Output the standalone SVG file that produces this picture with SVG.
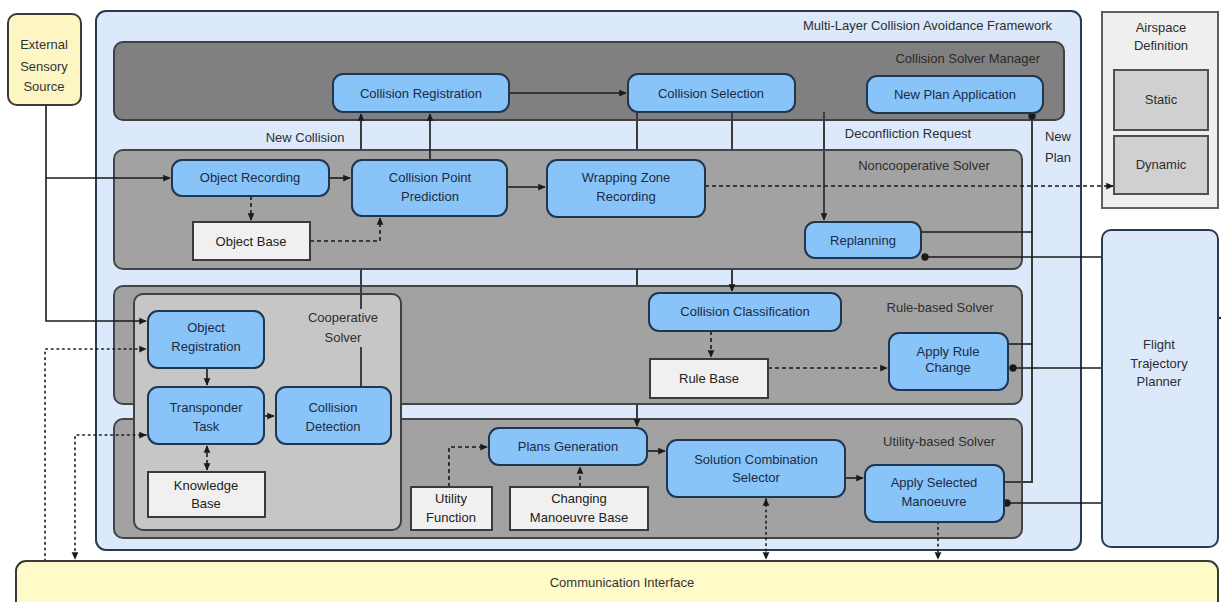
<svg xmlns="http://www.w3.org/2000/svg" width="1221" height="602" viewBox="0 0 1221 602">
<defs>
<marker id="arr" viewBox="0 0 10 10" refX="9" refY="5" markerWidth="7.5" markerHeight="7.5" orient="auto-start-reverse" markerUnits="userSpaceOnUse"><path d="M0,0.5 L10,5 L0,9.5 z" fill="#1a1a1a"/></marker>
<marker id="dot" viewBox="0 0 10 10" refX="5" refY="5" markerWidth="8" markerHeight="8" markerUnits="userSpaceOnUse"><circle cx="5" cy="5" r="4.6" fill="#1a1a1a"/></marker>
<style>
text{font-family:"Liberation Sans",Arial,sans-serif;font-size:13px;}
.nt{fill:#1c2a44;text-anchor:middle;}
.bt{fill:#2e2e2e;text-anchor:middle;}
.node{fill:#88c4f8;stroke:#1f3550;stroke-width:2;}
.db{fill:#f0f0f0;stroke:#3a3a3a;stroke-width:2;}
.band{fill:#a2a2a2;stroke:#454545;stroke-width:2;}
.c{fill:none;stroke:#1a1a1a;stroke-width:1.6;}
.g{fill:none;stroke:#3c3c3c;stroke-width:2;}
.dash{fill:none;stroke:#1a1a1a;stroke-width:1.6;stroke-dasharray:4 3;}
.dotl{fill:none;stroke:#1a1a1a;stroke-width:1.6;stroke-dasharray:1.6 4;stroke-linecap:round;}
</style>
</defs>

<g id="framework">
<rect x="96" y="11" width="985" height="539" rx="10" fill="#dce9fb" stroke="#2a3a50" stroke-width="2"/>
<text x="1052" y="30" style="fill:#2e2e2e;text-anchor:end;">Multi-Layer Collision Avoidance Framework</text>
</g>
<g id="manager-band">
<rect x="114" y="42" width="950" height="78" rx="9" fill="#808080" stroke="#404040" stroke-width="2"/>
<text x="1040" y="63" style="fill:#2a2a2a;text-anchor:end;">Collision Solver Manager</text>
</g>
<g id="noncoop-band">
<rect class="band" x="114" y="150" width="908" height="119" rx="9"/>
<text class="bt" x="924" y="170">Noncooperative Solver</text>
</g>
<g id="rule-band">
<rect class="band" x="114" y="286" width="908" height="118" rx="9"/>
<text class="bt" x="940" y="312">Rule-based Solver</text>
</g>
<g id="utility-band">
<rect class="band" x="114" y="419" width="908" height="119" rx="9"/>
<text class="bt" x="939" y="446">Utility-based Solver</text>
</g>
<g id="coop-solver">
<rect x="134" y="294" width="267" height="236" rx="9" fill="#c6c6c6" stroke="#404040" stroke-width="2"/>
<text class="bt" x="343" y="322">Cooperative</text>
<text class="bt" x="343" y="342">Solver</text>
</g>
<g id="airspace-definition">
<rect x="1102" y="12" width="116" height="196" fill="#efefef" stroke="#606060" stroke-width="2"/>
<text class="bt" x="1161" y="32">Airspace</text>
<text class="bt" x="1161" y="50">Definition</text>
</g>
<g id="static">
<rect x="1114" y="70" width="94" height="60" fill="#d0d0d0" stroke="#505050" stroke-width="2"/>
<text class="bt" x="1161" y="104">Static</text>
</g>
<g id="dynamic">
<rect x="1114" y="136" width="94" height="58" fill="#d0d0d0" stroke="#505050" stroke-width="2"/>
<text class="bt" x="1161" y="169">Dynamic</text>
</g>

<g id="connectors">
<path class="c" d="M46 105 V321 H146" marker-end="url(#arr)"/>
<path class="c" d="M46 178 H170" marker-end="url(#arr)"/>
<path class="c" d="M329 178 H350" marker-end="url(#arr)"/>
<path class="dash" d="M251 196 V220" marker-end="url(#arr)"/>
<path class="dash" d="M310 241 H380 V218" marker-end="url(#arr)"/>
<path class="c" d="M507 187 H545" marker-end="url(#arr)"/>
<path class="c" d="M430 160 V114" marker-end="url(#arr)"/>
<path class="g" d="M361 150 V114" marker-end="url(#arr)"/>
<path class="g" d="M361 269 V309 M361 347 V388"/>
<path class="c" d="M509 93 H626" marker-end="url(#arr)"/>
<path class="g" d="M637 112 V150 M637 269 V286"/>
<path class="g" d="M637 404 V426" marker-end="url(#arr)"/>
<path class="g" d="M732 112 V150"/>
<path class="g" d="M732 269 V291" marker-end="url(#arr)"/>
<path class="g" d="M824 112 V220" marker-end="url(#arr)"/>
<path class="g" d="M1032 116 V482 H1004" marker-start="url(#dot)"/>
<path class="c" d="M921 232 H1032 M1008 344 H1032"/>
<path class="c" d="M925 257 H1102" marker-start="url(#dot)"/>
<path class="c" d="M1013 368 H1102" marker-start="url(#dot)"/>
<path class="c" d="M1007 503 H1102" marker-start="url(#dot)"/>
<path class="c" d="M1221 318 H1219" marker-end="url(#arr)"/>
<path class="dash" d="M705 186 H1113" marker-end="url(#arr)"/>
<path class="dash" d="M711 331 V357" marker-end="url(#arr)"/>
<path class="dash" d="M768 368 H887" marker-end="url(#arr)"/>
<path class="c" d="M207 368 V385" marker-end="url(#arr)"/>
<path class="c" d="M264 416 H274" marker-end="url(#arr)"/>
<path class="dash" d="M207 446 V470" marker-start="url(#arr)" marker-end="url(#arr)"/>
<path class="dotl" d="M45 561 V349 H146" marker-end="url(#arr)"/>
<path class="dotl" d="M146 435 H75 V559" marker-start="url(#arr)" marker-end="url(#arr)"/>
<path class="dash" d="M449 487 V447 H487" marker-end="url(#arr)"/>
<path class="dash" d="M580 487 V467" marker-end="url(#arr)"/>
<path class="c" d="M647 451 H665" marker-end="url(#arr)"/>
<path class="c" d="M845 478 H863" marker-end="url(#arr)"/>
<path class="dotl" d="M766 499 V559" marker-start="url(#arr)" marker-end="url(#arr)"/>
<path class="dotl" d="M938 522 V559" marker-end="url(#arr)"/>
</g>

<g id="external-sensory-source">
<rect x="8" y="14" width="73" height="91" rx="9" fill="#fdf6c3" stroke="#3a3a3a" stroke-width="2"/>
<text class="nt" x="44" y="49" style="fill:#333">External</text>
<text class="nt" x="44" y="71" style="fill:#333">Sensory</text>
<text class="nt" x="44" y="91" style="fill:#333">Source</text>
</g>
<g id="collision-registration">
<rect class="node" x="333" y="74" width="176" height="38" rx="10"/>
<text class="nt" x="421" y="98">Collision Registration</text>
</g>
<g id="collision-selection">
<rect class="node" x="628" y="74" width="167" height="38" rx="10"/>
<text class="nt" x="711" y="98">Collision Selection</text>
</g>
<g id="new-plan-application">
<rect class="node" x="867" y="76" width="176" height="37" rx="10"/>
<text class="nt" x="955" y="99">New Plan Application</text>
</g>
<g id="labels">
<text class="bt" x="305" y="142">New Collision</text>
<text class="bt" x="908" y="138">Deconfliction Request</text>
<text class="bt" x="1058" y="141">New</text>
<text class="bt" x="1058" y="162">Plan</text>
</g>
<g id="object-recording">
<rect class="node" x="172" y="160" width="157" height="36" rx="10"/>
<text class="nt" x="250" y="182">Object Recording</text>
</g>
<g id="object-base">
<rect class="db" x="193" y="222" width="117" height="38"/>
<text class="nt" x="251" y="246" style="fill:#222">Object Base</text>
</g>
<g id="collision-point-prediction">
<rect class="node" x="352" y="160" width="155" height="56" rx="10"/>
<text class="nt" x="430" y="182">Collision Point</text>
<text class="nt" x="430" y="201">Prediction</text>
</g>
<g id="wrapping-zone-recording">
<rect class="node" x="547" y="160" width="158" height="57" rx="10"/>
<text class="nt" x="626" y="182">Wrapping Zone</text>
<text class="nt" x="626" y="201">Recording</text>
</g>
<g id="replanning">
<rect class="node" x="805" y="222" width="116" height="36" rx="10"/>
<text class="nt" x="863" y="245">Replanning</text>
</g>
<g id="object-registration">
<rect class="node" x="148" y="311" width="116" height="57" rx="10"/>
<text class="nt" x="206" y="332">Object</text>
<text class="nt" x="206" y="351">Registration</text>
</g>
<g id="transponder-task">
<rect class="node" x="148" y="387" width="116" height="57" rx="10"/>
<text class="nt" x="206" y="412">Transponder</text>
<text class="nt" x="206" y="431">Task</text>
</g>
<g id="collision-detection">
<rect class="node" x="276" y="387" width="115" height="57" rx="10"/>
<text class="nt" x="333" y="412">Collision</text>
<text class="nt" x="333" y="431">Detection</text>
</g>
<g id="knowledge-base">
<rect class="db" x="148" y="472" width="117" height="45"/>
<text class="nt" x="206" y="490" style="fill:#222">Knowledge</text>
<text class="nt" x="206" y="508" style="fill:#222">Base</text>
</g>
<g id="collision-classification">
<rect class="node" x="649" y="293" width="192" height="38" rx="10"/>
<text class="nt" x="745" y="316">Collision Classification</text>
</g>
<g id="rule-base">
<rect class="db" x="650" y="359" width="118" height="39"/>
<text class="nt" x="709" y="383" style="fill:#222">Rule Base</text>
</g>
<g id="apply-rule-change">
<rect class="node" x="889" y="333" width="119" height="57" rx="10"/>
<text class="nt" x="948" y="356">Apply Rule</text>
<text class="nt" x="948" y="372">Change</text>
</g>
<g id="plans-generation">
<rect class="node" x="489" y="428" width="158" height="37" rx="10"/>
<text class="nt" x="568" y="451">Plans Generation</text>
</g>
<g id="utility-function">
<rect class="db" x="411" y="487" width="81" height="43"/>
<text class="nt" x="451" y="503" style="fill:#222">Utility</text>
<text class="nt" x="451" y="522" style="fill:#222">Function</text>
</g>
<g id="changing-manoeuvre-base">
<rect class="db" x="510" y="487" width="138" height="43"/>
<text class="nt" x="579" y="503" style="fill:#222">Changing</text>
<text class="nt" x="579" y="522" style="fill:#222">Manoeuvre Base</text>
</g>
<g id="solution-combination-selector">
<rect class="node" x="667" y="440" width="178" height="57" rx="10"/>
<text class="nt" x="756" y="464">Solution Combination</text>
<text class="nt" x="756" y="482">Selector</text>
</g>
<g id="apply-selected-manoeuvre">
<rect class="node" x="865" y="465" width="139" height="57" rx="10"/>
<text class="nt" x="934" y="487">Apply Selected</text>
<text class="nt" x="934" y="506">Manoeuvre</text>
</g>
<g id="communication-interface">
<rect x="16" y="561" width="1202" height="50" rx="10" fill="#fffbc8" stroke="#3a3a3a" stroke-width="2"/>
<text class="nt" x="622" y="587" style="fill:#333">Communication Interface</text>
</g>
<g id="flight-trajectory-planner">
<rect x="1102" y="230" width="116" height="317" rx="9" fill="#dce9fb" stroke="#2a3a50" stroke-width="2"/>
<text class="bt" x="1159" y="349">Flight</text>
<text class="bt" x="1159" y="368">Trajectory</text>
<text class="bt" x="1159" y="386">Planner</text>
</g>
</svg>
